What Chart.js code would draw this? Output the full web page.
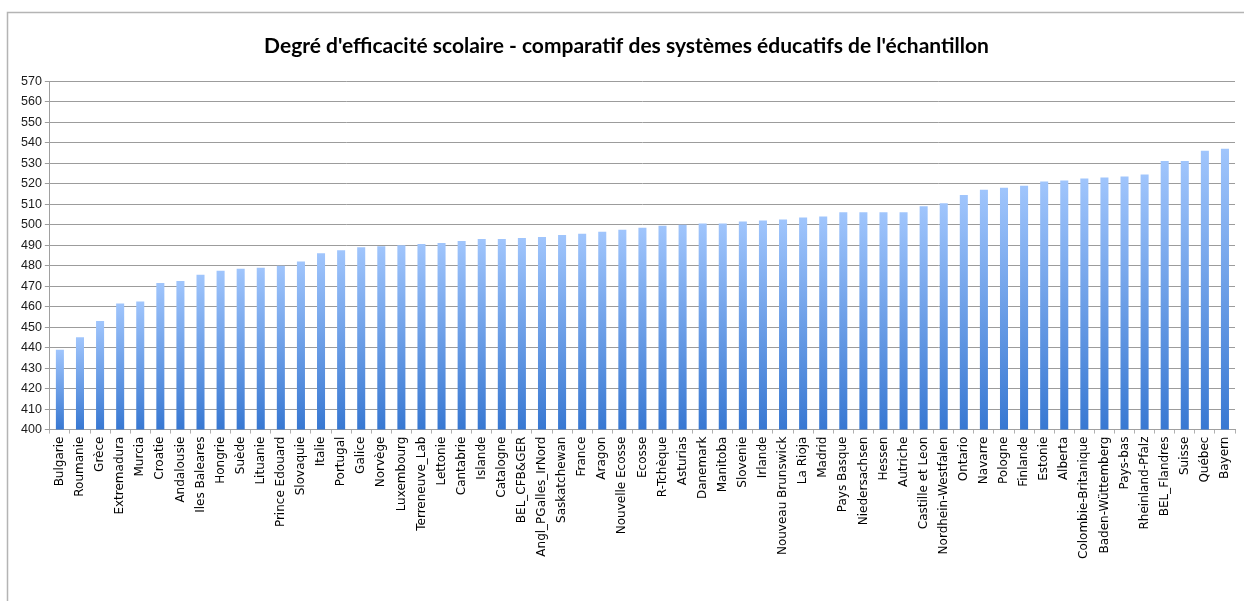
<!DOCTYPE html>
<html>
<head>
<meta charset="utf-8">
<script src="https://cdn.jsdelivr.net/npm/chart.js@4"></script>
<style>
  html, body { margin: 0; padding: 0; background: #fff; }
  #wrap { width: 1244px; height: 601px; position: relative; }
</style>
</head>
<body>
<div id="wrap"><canvas id="chart" width="1244" height="601"></canvas></div>
<script>
// Données
const titre = "Degré d'efficacité scolaire - comparatif des systèmes éducatifs de l'échantillon";

const systemes = [
    'Bulgarie', 'Roumanie', 'Grèce', 'Extremadura', 'Murcia', 'Croatie', 'Andalousie',
    'Iles Baleares', 'Hongrie', 'Suède', 'Lituanie', 'Prince Edouard', 'Slovaquie', 'Italie',
    'Portugal', 'Galice', 'Norvège', 'Luxembourg', 'Terreneuve_Lab', 'Lettonie', 'Cantabrie',
    'Islande', 'Catalogne', 'BEL_CFB&GER', 'Angl_PGalles_IrNord', 'Saskatchewan', 'France',
    'Aragon', 'Nouvelle Ecosse', 'Ecosse', 'R-Tchèque', 'Asturias', 'Danemark', 'Manitoba',
    'Slovenie', 'Irlande', 'Nouveau Brunswick', 'La Rioja', 'Madrid', 'Pays Basque',
    'Niedersachsen', 'Hessen', 'Autriche', 'Castille et Leon', 'Nordhein-Westfalen', 'Ontario',
    'Navarre', 'Pologne', 'Finlande', 'Estonie', 'Alberta', 'Colombie-Britanique',
    'Baden-Wüttemberg', 'Pays-bas', 'Rheinland-Pfalz', 'BEL_Flandres', 'Suisse', 'Québec', 'Bayern'
];

const scores = [
    439, 445, 453, 461.5, 462.5, 471.5, 472.5,
    475.5, 477.5, 478.5, 479, 480, 482, 486,
    487.5, 489, 489.5, 490, 490.5, 491, 492,
    493, 493, 493.5, 494, 495, 495.5,
    496.5, 497.5, 498.5, 499.5, 500, 500.5, 500.5,
    501.5, 502, 502.5, 503.5, 504, 506,
    506, 506, 506, 509, 510.5, 514.5,
    517, 518, 519, 521, 521.5, 522.5,
    523, 523.5, 524.5, 531, 531, 536, 537
];

const yMin = 400;
const yMax = 570;
const yStep = 10;

// Dégradé de chaque barre (clair en haut, foncé en bas)
function barGradient(context) {
    const chart = context.chart;
    const area = chart.chartArea;
    const yScale = chart.scales.y;
    if (!area || !yScale || context.dataIndex === undefined) return '#6aa0ea';
    const top = yScale.getPixelForValue(scores[context.dataIndex]);
    const g = chart.ctx.createLinearGradient(0, top, 0, area.bottom);
    g.addColorStop(0, '#a0c5fc');
    g.addColorStop(1, '#3878d2');
    return g;
}

// Cadre gris (haut et gauche)
const cadre = {
    id: 'cadre',
    beforeDraw(chart) {
        const ctx = chart.ctx;
        ctx.save();
        ctx.strokeStyle = '#b4b4b4';
        ctx.lineWidth = 1.5;
        ctx.beginPath();
        ctx.moveTo(7.5, 601);
        ctx.lineTo(7.5, 12.5);
        ctx.lineTo(1244, 12.5);
        ctx.stroke();
        ctx.restore();
    }
};

const ctx = document.getElementById('chart').getContext('2d');
const chart = new Chart(ctx, {
    type: 'bar',
    data: {
        labels: systemes,
        datasets: [{
            data: scores,
            backgroundColor: barGradient,
            borderWidth: 0,
            barPercentage: 0.4,
            categoryPercentage: 1.0,
        }],
    },
    options: {
        responsive: false,
        animation: false,
        layout: { padding: { left: 18, right: 9, top: 24, bottom: 39 } },
        plugins: {
            legend: { display: false },
            tooltip: { enabled: false },
            title: {
                display: true,
                text: titre,
                color: '#000',
                font: { family: 'Lato', size: 21, weight: 'bold' },
                padding: { top: 10, bottom: 22 },
            },
        },
        scales: {
            x: {
                grid: {
                    offset: true,
                    drawOnChartArea: false,
                    drawTicks: true,
                    tickLength: 4,
                    color: '#b0b0b0',
                },
                border: { color: '#a0a0a0' },
                ticks: {
                    autoSkip: false,
                    minRotation: 90,
                    maxRotation: 90,
                    padding: 3,
                    color: '#000',
                    font: { family: 'DejaVu Sans', size: 12 },
                },
            },
            y: {
                min: yMin,
                max: yMax,
                grid: { color: '#9c9c9c', lineWidth: 1, tickLength: 5 },
                border: { color: '#a0a0a0' },
                ticks: {
                    stepSize: yStep,
                    padding: 3,
                    color: '#1a1a1a',
                    font: { family: 'Liberation Sans', size: 12.5 },
                },
            },
        },
    },
    plugins: [cadre],
});
</script>
</body>
</html>
